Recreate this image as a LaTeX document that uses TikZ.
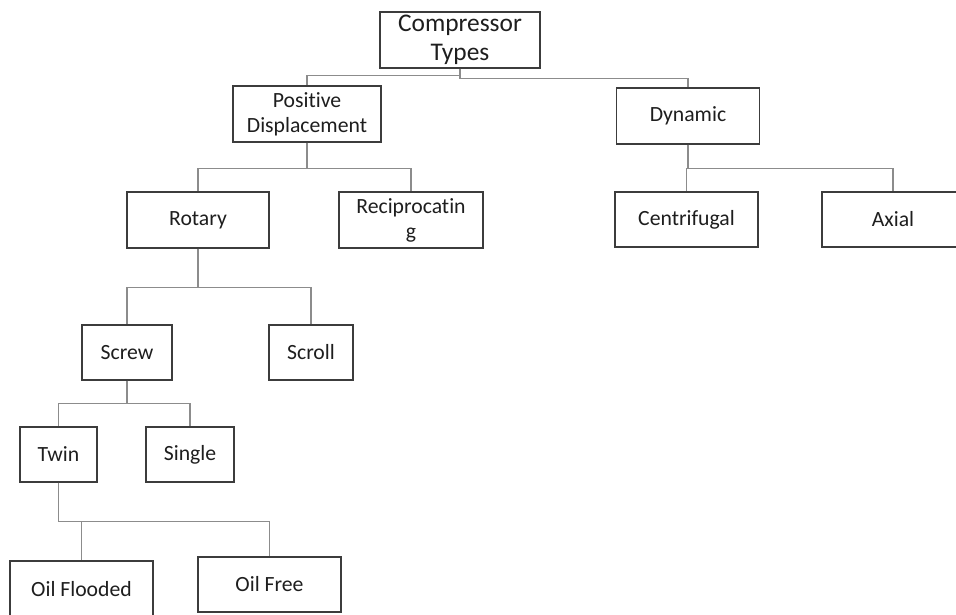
\documentclass[tikz,border=0pt]{standalone}
\usepackage{fontspec}
\setmainfont{Carlito}[Ligatures=NoCommon]
\definecolor{boxline}{HTML}{3C3C3C}
\definecolor{connline}{HTML}{8C8C8C}
\definecolor{txt}{HTML}{1E1E1E}
\begin{document}
\begin{tikzpicture}[x=1pt,y=-1pt,
  boxn/.style={draw=boxline, line width=1.4pt, fill=white, text=txt, inner sep=0pt,
    align=center, font=\fontsize{21.7}{25}\selectfont},
  topbox/.style={boxn, font=\fontsize{25.4}{29}\selectfont},
  conn/.style={draw=connline, line width=1.2pt}]
\useasboundingbox (0,0) rectangle (956,614);
\clip (0,0) rectangle (956,614);
\fill[white] (0,0) rectangle (956,614);
% nodes
\node[topbox, minimum width=160pt, minimum height=56pt] (ct) at (460,40) {Compressor\\Types};
\node[boxn, minimum width=148pt, minimum height=56pt] (pd) at (307,114) {Positive\\Displacement};
\node[boxn, minimum width=143pt, minimum height=56pt] (dyn) at (688,116) {Dynamic};
\node[boxn, minimum width=142pt, minimum height=56pt] (rot) at (198,220) {Rotary};
\node[boxn, minimum width=144pt, minimum height=56pt] (rec) at (411,220) {Reciprocatin\\g};
\node[boxn, minimum width=143pt, minimum height=55pt] (cen) at (686.5,219.5) {Centrifugal};
\node[boxn, minimum width=142pt, minimum height=55pt] (axi) at (893,219.5) {Axial};
\node[boxn, minimum width=90pt, minimum height=55pt] (screw) at (127,352.5) {Screw};
\node[boxn, minimum width=84pt, minimum height=55pt] (scroll) at (311,352.5) {Scroll};
\node[boxn, minimum width=77pt, minimum height=55pt] (twin) at (58.5,454.5) {Twin};
\node[boxn, minimum width=88pt, minimum height=55pt] (single) at (190,454.5) {Single};
\node[boxn, minimum width=143pt, minimum height=56pt] (oilf) at (81.5,589) {Oil Flooded};
\node[boxn, minimum width=143pt, minimum height=55pt] (oilfree) at (269.5,584.5) {Oil Free};
% connectors
\draw[conn] (ct.south) -- ++(0,7) -| (pd.north);
\draw[conn] (ct.south) -- ++(0,10) -| (dyn.north);
\draw[conn] (pd.south) -- ++(0,26) -| (rot.north);
\draw[conn] (pd.south) -- ++(0,26) -| (rec.north);
\draw[conn] (dyn.south) -- ++(0,24) -| (cen.north);
\draw[conn] (dyn.south) -- ++(0,24) -| (axi.north);
\draw[conn] (rot.south) -- ++(0,39) -| (screw.north);
\draw[conn] (rot.south) -- ++(0,39) -| (scroll.north);
\draw[conn] (screw.south) -- ++(0,23) -| (twin.north);
\draw[conn] (screw.south) -- ++(0,23) -| (single.north);
\draw[conn] (twin.south) -- ++(0,39) -| (oilf.north);
\draw[conn] (twin.south) -- ++(0,39) -| (oilfree.north);
\end{tikzpicture}
\end{document}
